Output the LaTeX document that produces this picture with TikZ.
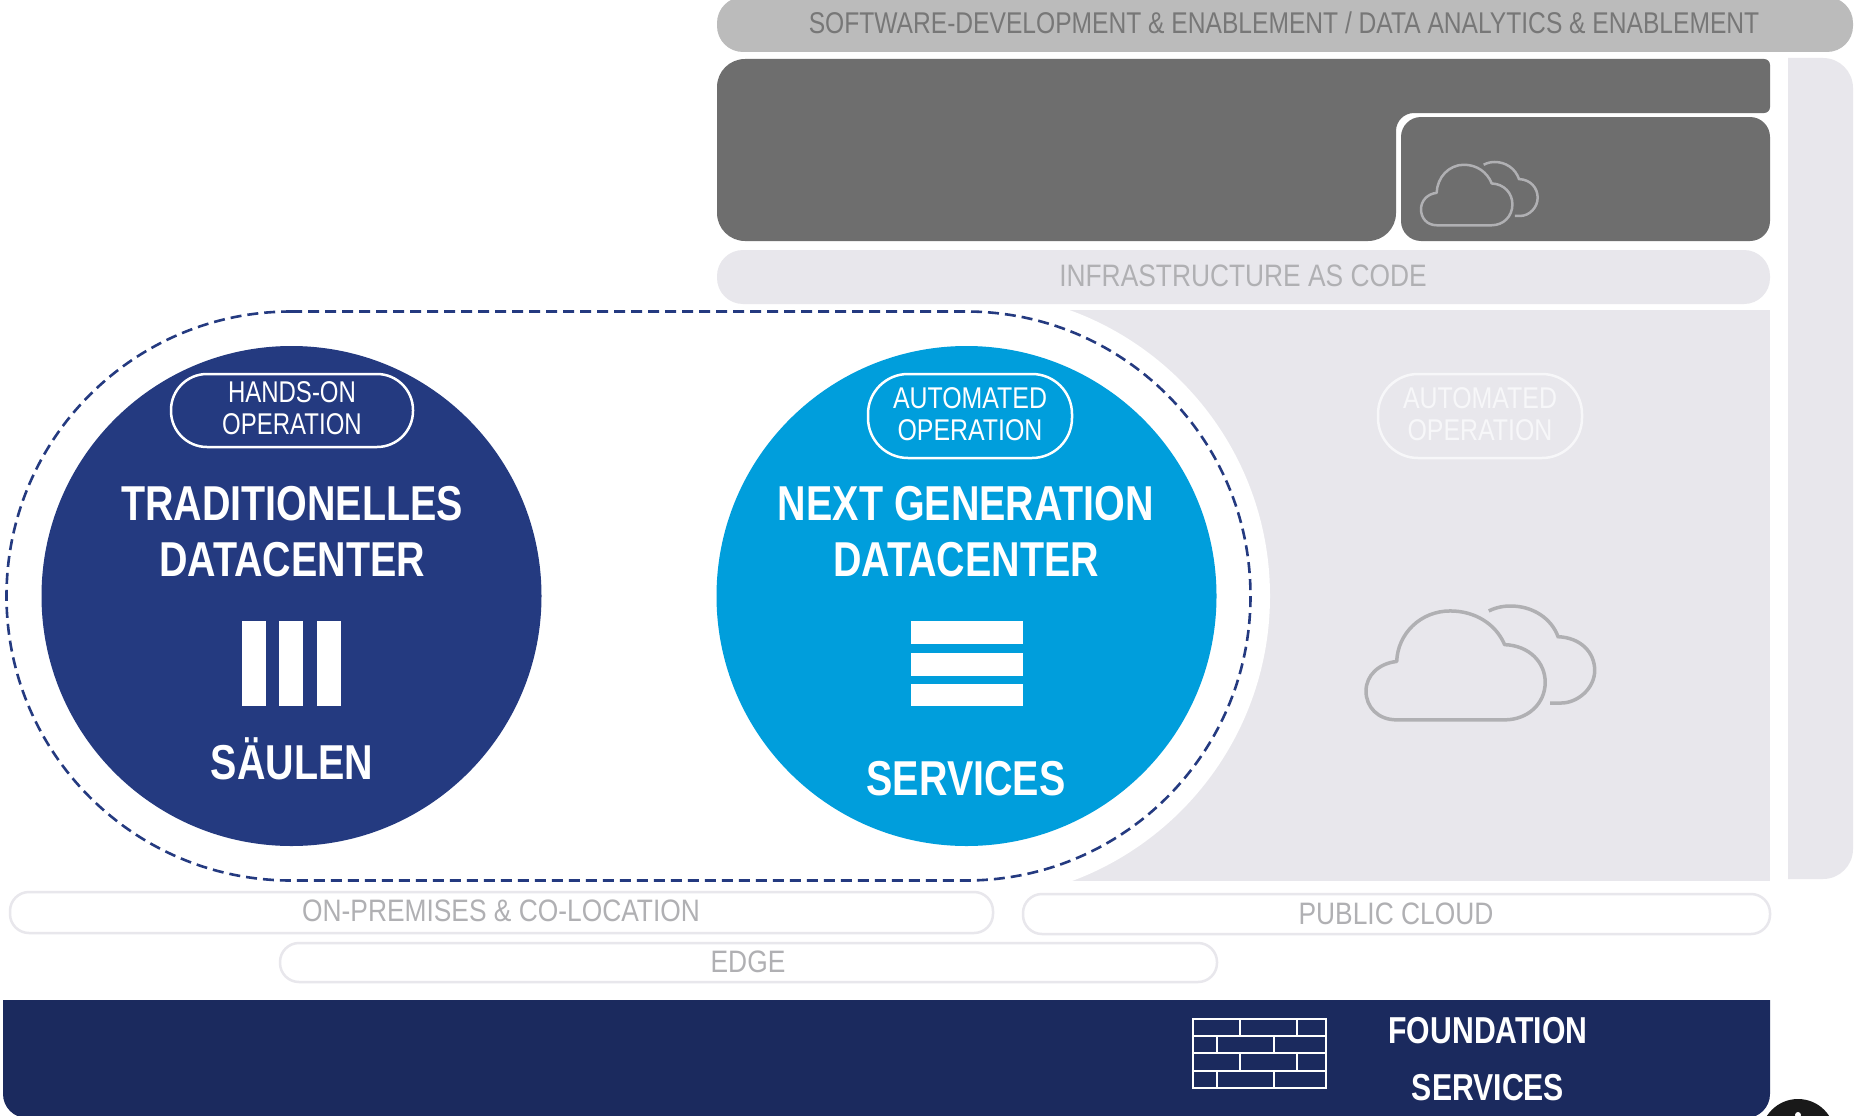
\documentclass[tikz,border=0pt]{standalone}
\usepackage{fontspec}
\setmainfont{Liberation Sans}
\newfontfamily\narrow[FakeStretch=0.80]{Liberation Sans}
\newfontfamily\narrowO[FakeStretch=0.83]{Liberation Sans}
\newfontfamily\narrowT[FakeStretch=0.82]{Liberation Sans}
\newfontfamily\narrowL[FakeStretch=0.85]{Liberation Sans}
\newfontfamily\narrowBold[FakeStretch=0.805]{Liberation Sans Bold}
\definecolor{navy}{HTML}{243A80}
\definecolor{sky}{HTML}{009EDC}
\definecolor{found}{HTML}{1B2A5E}
\definecolor{darkbox}{HTML}{6E6E6E}
\definecolor{topbar}{HTML}{BBBBBB}
\definecolor{pale}{HTML}{E8E7EC}
\definecolor{txt}{HTML}{B0B0B3}
\definecolor{toptxt}{HTML}{777777}
\definecolor{ghost}{HTML}{F7F7F9}
\tikzset{
  x=1pt,y=-1pt,
  outlinepill/.style={draw=pale,line width=2.5pt,fill=white,rounded corners=19pt},
  oppill/.style={draw=#1,line width=2.5pt},
  plainlabel/.style={font=\narrowL\fontsize{31}{31}\selectfont,text=txt,inner sep=0pt,anchor=base},
  toplabel/.style={font=\narrowT\fontsize{30}{30}\selectfont,text=toptxt,inner sep=0pt,anchor=base},
  opl/.style={font=\narrow\fontsize{30}{30}\selectfont,text=white,inner sep=0pt,anchor=base},
  oplb/.style={font=\narrowO\fontsize{30}{30}\selectfont,text=white,inner sep=0pt,anchor=base},
  head/.style={font=\narrowBold\fontsize{49}{49}\selectfont,text=white,inner sep=0pt,anchor=base},
  fhead/.style={font=\narrowBold\fontsize{37.5}{37.5}\selectfont,text=white,inner sep=0pt,anchor=base},
  bigdisc/.style={circle,minimum size=500pt,inner sep=0pt,draw=none},
  wall/.style={white,line width=2pt},
}
\newcommand{\cloudshape}[1]{%
  \draw[txt,line width=#1,line join=round]
    (31,115) .. controls (12,115) and (0,102) .. (0,86)
    .. controls (0,70) and (13,58) .. (31,56)
    .. controls (32,28) and (55,5) .. (85,5)
    .. controls (110,5) and (131,18) .. (140,39)
    .. controls (165,40) and (181,57) .. (181,77)
    .. controls (181,99) and (163,115) .. (140,115) -- cycle;
  \draw[txt,line width=#1]
    (124,5) .. controls (132,1) and (140,0) .. (146,0)
    .. controls (168,0) and (187,12) .. (194,31)
    .. controls (217,32) and (231,47) .. (231,65)
    .. controls (231,83) and (214,98) .. (197,98) -- (186,98);
}
\begin{document}
\begin{tikzpicture}
\useasboundingbox (0,0) rectangle (1855,1116);
\clip (0,0) rectangle (1855,1116);
\fill[white] (0,0) rectangle (1855,1116);
% grey cloud area and concentric white cut-out
\fill[pale] (1000,310) rectangle (1770,881);
\fill[white] (966,596) circle[radius=304];
% top bar
\fill[topbar,rounded corners=26pt] (717,-3) rectangle (1853,52);
% right column
\fill[pale] [rounded corners=30pt] (1788,879) -- (1853,879) -- (1853,58) [sharp corners] -- (1788,58) -- cycle;
% dark box with notch
\fill[darkbox] [rounded corners=28pt] (717,150) -- (717,59)
  [rounded corners=6pt] -- (1770,59) -- (1770,113)
  [rounded corners=18pt] -- (1396,113)
  [rounded corners=28pt] -- (1396,241) -- (717,241) -- cycle;
\fill[darkbox,rounded corners=20pt] (1401,117) rectangle (1770,241);
% infrastructure bar
\fill[pale,rounded corners=26pt] (717,250) rectangle (1770,304);
% dashed stadium
\draw[navy,line width=2.6pt,dash pattern=on 11pt off 6pt]
  (291,311.5) -- (966,311.5)
  arc[start angle=90,end angle=-90,radius=284.5pt]
  -- (291,880.5)
  arc[start angle=-90,end angle=-270,radius=284.5pt] -- cycle;
% discs
\node[bigdisc,fill=navy] (trad) at (291.5,596) {};
\node[bigdisc,fill=sky] (next) at (966.5,596) {};
% bars
\fill[white] (242,621) rectangle (266,706);
\fill[white] (279,621) rectangle (303,706);
\fill[white] (317,621) rectangle (341,706);
\fill[white] (911,621) rectangle (1023,644);
\fill[white] (911,653) rectangle (1023,676);
\fill[white] (911,684) rectangle (1023,706);
% operation pills
\draw[oppill=white,rounded corners=36pt] (171,374) rectangle (413,447);
\draw[oppill=white,rounded corners=40pt] (868,374) rectangle (1072,458);
\draw[oppill=ghost,rounded corners=40pt] (1378,374) rectangle (1582,458);
\node[opl] (a1) at (292,402.5) {HANDS-ON};
\node[opl] (a2) at (292,434.7) {OPERATION};
\node[oplb] (b1) at (970,408) {AUTOMATED};
\node[oplb] (b2) at (970,440) {OPERATION};
\node[oplb,text=ghost] (c1) at (1480,408) {AUTOMATED};
\node[oplb,text=ghost] (c2) at (1480,440) {OPERATION};
% headings
\node[head] (t1) at (292,520) {TRADITIONELLES};
\node[head] (t2) at (292,576) {DATACENTER};
\node[head] (t3) at (292,779) {SÄULEN};
\node[head] (n1) at (966,520) {NEXT GENERATION};
\node[head] (n2) at (966,576) {DATACENTER};
\node[head] (n3) at (966,795) {SERVICES};
% clouds
\begin{scope}[shift={(1366,606)},xscale=.99,yscale=.99]\cloudshape{3.5pt}\end{scope}
\begin{scope}[shift={(1421,162)},xscale=.505,yscale=.55]\cloudshape{2.5pt}\end{scope}
% bar labels
\node[toplabel] (sw) at (1284,34) {SOFTWARE-DEVELOPMENT \& ENABLEMENT / DATA ANALYTICS \& ENABLEMENT};
\node[plainlabel] (iac) at (1243,286) {INFRASTRUCTURE AS CODE};
% location pills
\draw[outlinepill] (10,892) rectangle (993,933);
\draw[outlinepill] (1023,894) rectangle (1770,934);
\draw[outlinepill] (280,943) rectangle (1217,982);
\node[plainlabel] (onp) at (501,921) {ON-PREMISES \& CO-LOCATION};
\node[plainlabel] (pub) at (1396,924) {PUBLIC CLOUD};
\node[plainlabel] (edge) at (748,972) {EDGE};
% foundation
\fill[found] (3,1000) -- (1770,1000) [rounded corners=24pt] -- (1770,1118) -- (3,1118) [sharp corners] -- cycle;
\draw[wall] (1193,1019) rectangle (1326,1088);
\draw[wall] (1193,1036) -- (1326,1036) (1193,1053) -- (1326,1053) (1193,1071) -- (1326,1071);
\draw[wall] (1239.5,1019) -- (1239.5,1036) (1296.5,1019) -- (1296.5,1036)
  (1216.5,1036) -- (1216.5,1053) (1273.5,1036) -- (1273.5,1053)
  (1239.5,1053) -- (1239.5,1071) (1296.5,1053) -- (1296.5,1071)
  (1216.5,1071) -- (1216.5,1088) (1273.5,1071) -- (1273.5,1088);
\node[fhead] (f1) at (1488,1043) {FOUNDATION};
\node[fhead] (f2) at (1488,1100) {SERVICES};
% badge cut by the lower edge
\fill[black!90] (1798,1136) circle[radius=37];
\fill[white] (1798,1115) circle[radius=3];
\end{tikzpicture}
\end{document}
